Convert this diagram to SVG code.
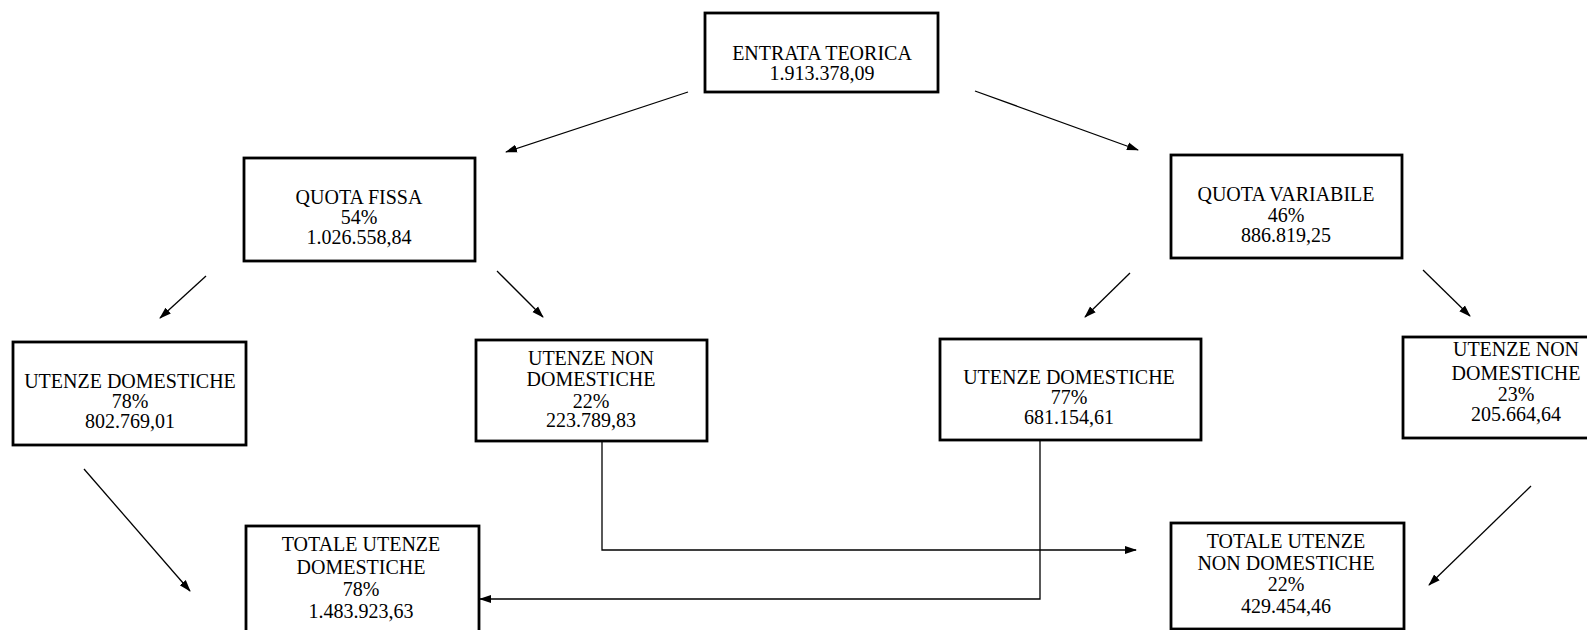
<svg xmlns="http://www.w3.org/2000/svg" width="1587" height="630" viewBox="0 0 1587 630">
<style>
.box{fill:#fff;stroke:#000;stroke-width:2.8}
.t{font-family:"Liberation Serif","Times New Roman",serif;font-size:20px;fill:#000;text-anchor:middle}
.c{fill:none;stroke:#000;stroke-width:1.3}
</style>
<defs>
<marker id="ah" viewBox="0 0 12 10" refX="11" refY="5" markerWidth="12" markerHeight="10" markerUnits="userSpaceOnUse" orient="auto">
<path d="M0,1 L12,5 L0,9 z" fill="#000"/>
</marker>
</defs>
<rect width="1587" height="630" fill="#fff"/>
<g id="connectors">
<line class="c" x1="688" y1="92" x2="506" y2="152" marker-end="url(#ah)"/>
<line class="c" x1="975" y1="91" x2="1138" y2="150" marker-end="url(#ah)"/>
<line class="c" x1="206" y1="276" x2="160" y2="318" marker-end="url(#ah)"/>
<line class="c" x1="497" y1="271" x2="543" y2="317" marker-end="url(#ah)"/>
<line class="c" x1="1130" y1="273" x2="1085" y2="317" marker-end="url(#ah)"/>
<line class="c" x1="1423" y1="270" x2="1470" y2="316" marker-end="url(#ah)"/>
<line class="c" x1="84" y1="469" x2="190" y2="591" marker-end="url(#ah)"/>
<polyline class="c" points="602,442 602,550 1136,550" marker-end="url(#ah)"/>
<polyline class="c" points="1040,441 1040,599 480,599" marker-end="url(#ah)"/>
<line class="c" x1="1531" y1="486" x2="1429" y2="585" marker-end="url(#ah)"/>
</g>
<g id="entrata">
<rect class="box" x="705" y="13" width="233" height="79"/>
<text class="t" x="822" y="60">ENTRATA TEORICA</text>
<text class="t" x="822" y="80">1.913.378,09</text>
</g>
<g id="quota-fissa">
<rect class="box" x="244" y="158" width="231" height="103"/>
<text class="t" x="359" y="204">QUOTA FISSA</text>
<text class="t" x="359" y="224">54%</text>
<text class="t" x="359" y="244">1.026.558,84</text>
</g>
<g id="quota-variabile">
<rect class="box" x="1171" y="155" width="231" height="103"/>
<text class="t" x="1286" y="201">QUOTA VARIABILE</text>
<text class="t" x="1286" y="222">46%</text>
<text class="t" x="1286" y="242">886.819,25</text>
</g>
<g id="ud-fissa">
<rect class="box" x="13" y="342" width="233" height="103"/>
<text class="t" x="130" y="388">UTENZE DOMESTICHE</text>
<text class="t" x="130" y="408">78%</text>
<text class="t" x="130" y="428">802.769,01</text>
</g>
<g id="und-fissa">
<rect class="box" x="476" y="340" width="231" height="101"/>
<text class="t" x="591" y="365">UTENZE NON</text>
<text class="t" x="591" y="386">DOMESTICHE</text>
<text class="t" x="591" y="408">22%</text>
<text class="t" x="591" y="427">223.789,83</text>
</g>
<g id="ud-variabile">
<rect class="box" x="940" y="339" width="261" height="101"/>
<text class="t" x="1069" y="384">UTENZE DOMESTICHE</text>
<text class="t" x="1069" y="404">77%</text>
<text class="t" x="1069" y="424">681.154,61</text>
</g>
<g id="und-variabile">
<rect class="box" x="1403" y="337" width="200" height="101"/>
<text class="t" x="1516" y="356">UTENZE NON</text>
<text class="t" x="1516" y="380">DOMESTICHE</text>
<text class="t" x="1516" y="401">23%</text>
<text class="t" x="1516" y="421">205.664,64</text>
</g>
<g id="totale-ud">
<rect class="box" x="246" y="526" width="233" height="110"/>
<text class="t" x="361" y="551">TOTALE UTENZE</text>
<text class="t" x="361" y="574">DOMESTICHE</text>
<text class="t" x="361" y="596">78%</text>
<text class="t" x="361" y="618">1.483.923,63</text>
</g>
<g id="totale-und">
<rect class="box" x="1171" y="523" width="233" height="106"/>
<text class="t" x="1286" y="548">TOTALE UTENZE</text>
<text class="t" x="1286" y="570">NON DOMESTICHE</text>
<text class="t" x="1286" y="591">22%</text>
<text class="t" x="1286" y="613">429.454,46</text>
</g>
</svg>
